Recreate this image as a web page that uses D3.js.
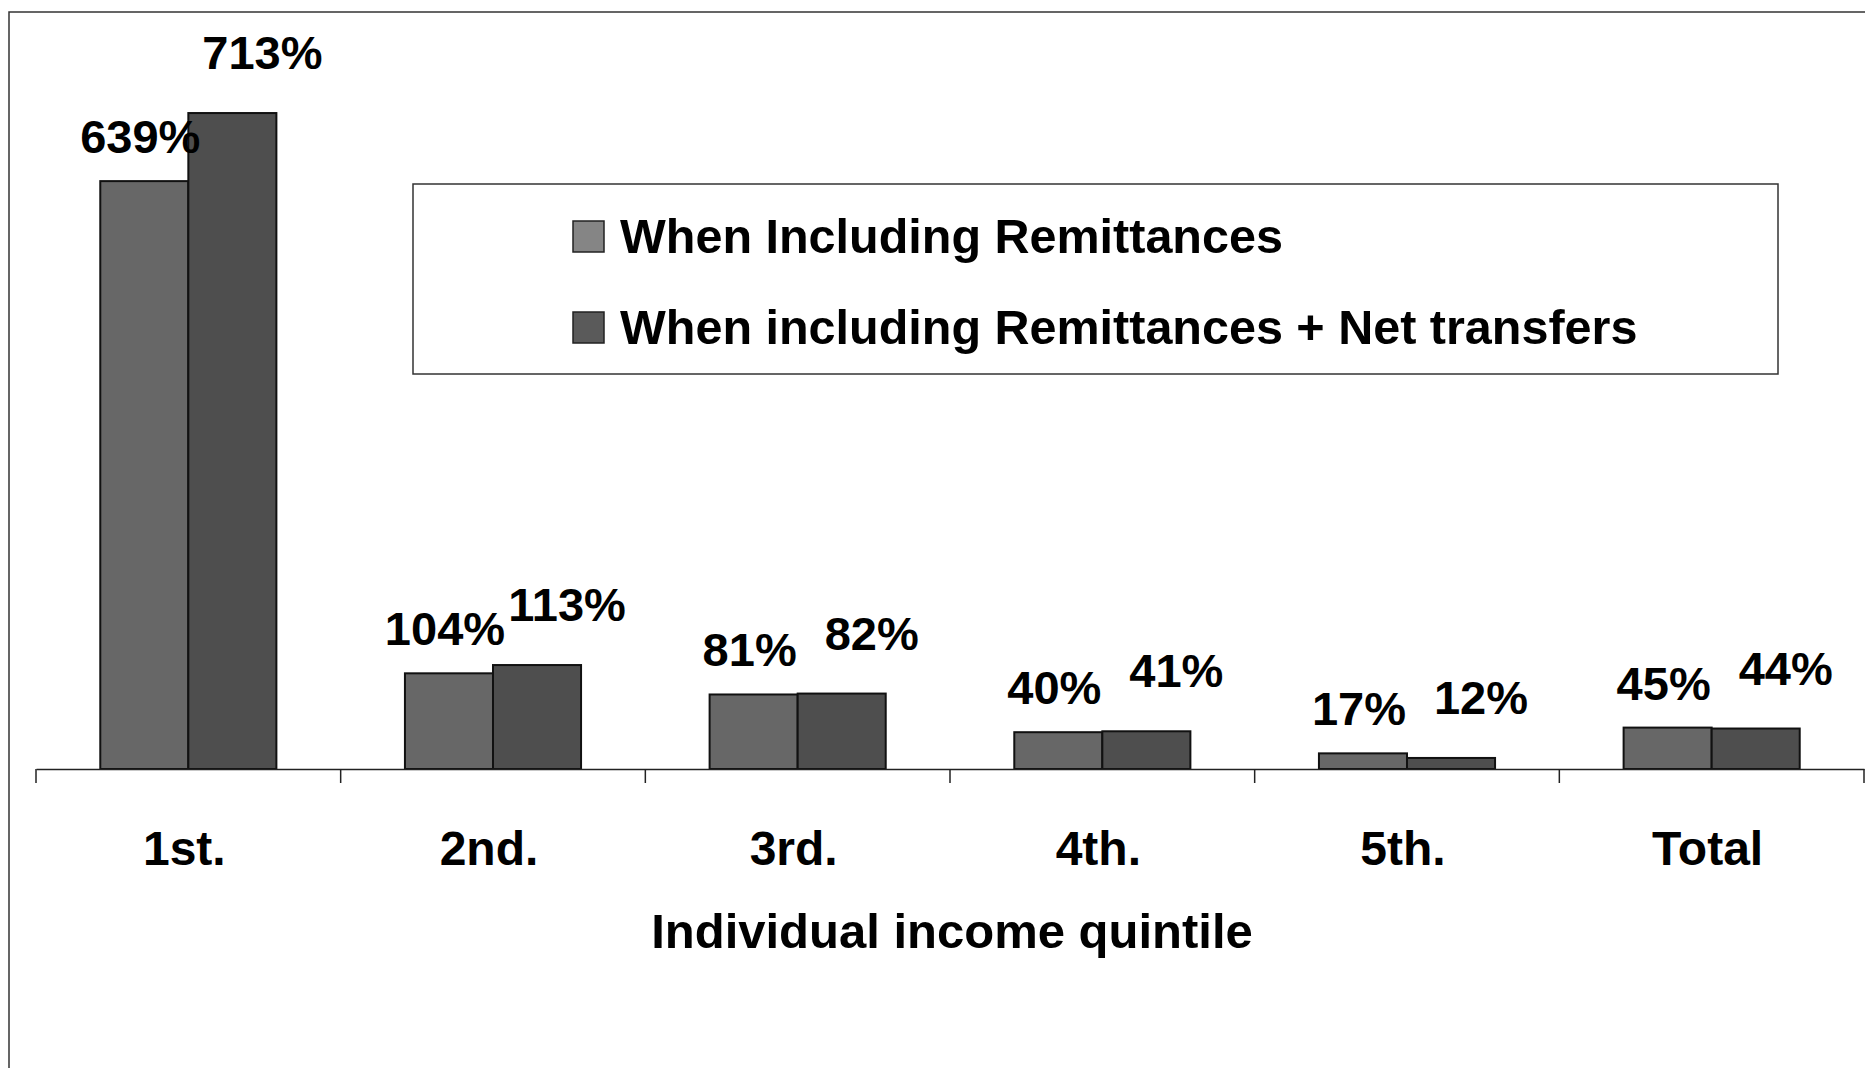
<!DOCTYPE html>
<html>
<head>
<meta charset="utf-8">
<script src="https://cdn.jsdelivr.net/npm/d3@7"></script>
<style>
  html, body { margin: 0; padding: 0; background: #fff; }
  svg { display: block; }
  text { font-family: "Liberation Sans", Arial, sans-serif; font-weight: bold; fill: #000; }
</style>
</head>
<body>
<svg id="chart" width="1865" height="1068"></svg>
<script>
// ---- data ----
const categories = ["1st.", "2nd.", "3rd.", "4th.", "5th.", "Total"];
const seriesNames = ["When Including Remittances", "When including Remittances + Net transfers"];
const remittances = [639, 104, 81, 40, 17, 45];
const remittancesNetTransfers = [713, 113, 82, 41, 12, 44];
const axisTitle = "Individual income quintile";

const seriesValues = [remittances, remittancesNetTransfers];
const fills = ["#676767", "#4e4e4e"];
const legendFills = ["#858585", "#5a5a5a"];
const labelOffset = [{dx: -4, dy: -28}, {dx: 30, dy: -44}];

const W = 1865, H = 1068;
const svg = d3.select("#chart");

// outer frame
svg.append("rect").attr("x", 9).attr("y", 12).attr("width", W + 10).attr("height", H + 10)
  .attr("fill", "#fff").attr("stroke", "#333").attr("stroke-width", 1.5);

const baseY = 769;
const x0 = d3.scaleBand().domain(categories).range([36, 1864]).padding(0);
const x1 = d3.scaleBand().domain([0, 1]).range([0, x0.bandwidth()]).paddingInner(0).paddingOuter(0.73);
const y = d3.scaleLinear().domain([0, 800]).range([baseY, baseY - 800 * 0.92]);

// bars
const groups = svg.append("g").selectAll("g").data(categories).join("g")
  .attr("transform", d => `translate(${x0(d)},0)`);

groups.selectAll("rect").data((d, i) => seriesValues.map((s, si) => ({si, v: s[i]})))
  .join("rect")
  .attr("x", d => x1(d.si))
  .attr("y", d => y(d.v))
  .attr("width", x1.bandwidth())
  .attr("height", d => y(0) - y(d.v))
  .attr("fill", d => fills[d.si])
  .attr("stroke", "#111")
  .attr("stroke-width", 2);

groups.selectAll("text.lbl").data((d, i) => seriesValues.map((s, si) => ({si, v: s[i]})))
  .join("text").attr("class", "lbl")
  .attr("x", d => x1(d.si) + x1.bandwidth() / 2 + labelOffset[d.si].dx)
  .attr("y", d => y(d.v) + labelOffset[d.si].dy)
  .attr("text-anchor", "middle")
  .attr("font-size", 47)
  .text(d => d.v + "%");

// x axis
const axis = d3.axisBottom(x0).tickSize(0).tickFormat("");
const ax = svg.append("g").attr("transform", `translate(0,${baseY})`).call(axis);
ax.select(".domain").attr("stroke", "#222").attr("stroke-width", 1.5);
const boundaries = categories.map(c => x0(c)).concat([x0.range()[1]]);
ax.selectAll("line.tk").data(boundaries).join("line").attr("class", "tk")
  .attr("x1", d => d).attr("x2", d => d).attr("y1", 0).attr("y2", 14)
  .attr("stroke", "#222").attr("stroke-width", 1.5);

svg.append("g").selectAll("text").data(categories).join("text")
  .attr("x", d => x0(d) + x0.bandwidth() / 2 - 4)
  .attr("y", 865)
  .attr("text-anchor", "middle")
  .attr("font-size", 48)
  .text(d => d);

svg.append("text")
  .attr("x", (x0.range()[0] + x0.range()[1]) / 2 + 2)
  .attr("y", 948)
  .attr("text-anchor", "middle")
  .attr("font-size", 49)
  .text(axisTitle);

// legend
const lg = svg.append("g");
lg.append("rect").attr("x", 413).attr("y", 184).attr("width", 1365).attr("height", 190)
  .attr("fill", "#fff").attr("stroke", "#333").attr("stroke-width", 1.5);
const rowY = [236, 327];
seriesNames.forEach((name, i) => {
  lg.append("rect").attr("x", 573).attr("y", rowY[i] - 15).attr("width", 31).attr("height", 31)
    .attr("fill", legendFills[i]).attr("stroke", "#222").attr("stroke-width", 1.5);
  lg.append("text").attr("x", 620).attr("y", rowY[i] + 17)
    .attr("font-size", 48.5).text(name);
});
</script>
</body>
</html>
